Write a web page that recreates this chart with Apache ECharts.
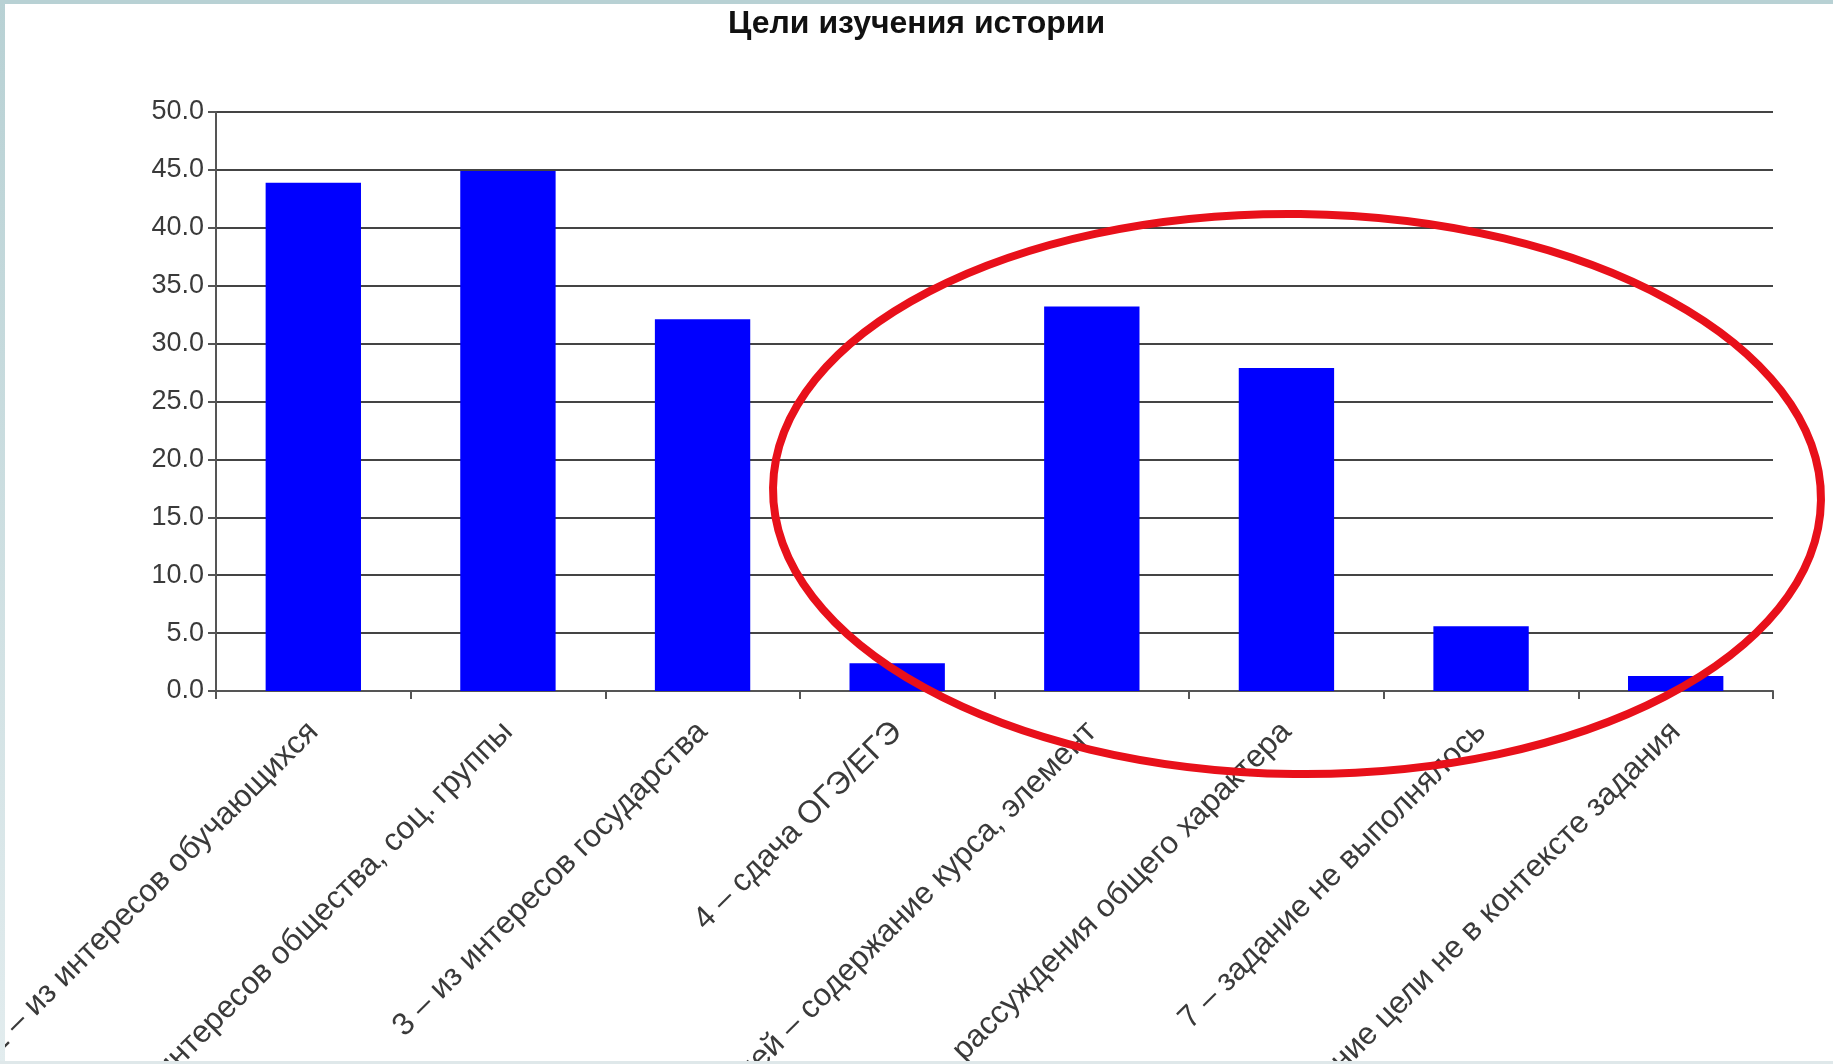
<!DOCTYPE html>
<html>
<head>
<meta charset="utf-8">
<script src="https://cdn.jsdelivr.net/npm/echarts@6/dist/echarts.min.js"></script>
<style>
  html, body { margin: 0; padding: 0; background: #fff; }
  #chart { width: 1833px; height: 1064px; }
</style>
</head>
<body>
<div id="chart"></div>
<script>
// категории (подписи оси X)
const categories = [
  "1 – из интересов обучающихся",
  "2 – из интересов общества, соц. группы",
  "3 – из интересов государства",
  "4 – сдача ОГЭ/ЕГЭ",
  "5 – перечисление целей – содержание курса, элемент",
  "6 – рассуждения общего характера",
  "7 – задание не выполнялось",
  "8 – указание цели не в контексте задания"
];
// доли ответов, %
const values = [43.9, 44.9, 32.1, 2.4, 33.2, 27.9, 5.6, 1.3];
const yMin = 0;
const yMax = 50;
const yStep = 5;

const chart = echarts.init(document.getElementById("chart"));

const option = {
  backgroundColor: "#ffffff",
  animation: false,
  title: {
    text: "Цели изучения истории",
    left: "center",
    top: 3,
    textStyle: {
      fontFamily: "Liberation Sans, Arial, sans-serif",
      fontSize: 32,
      fontWeight: "bold",
      color: "#111"
    }
  },
  grid: {
    left: 216,
    right: 60,
    top: 112,
    bottom: 373,
    containLabel: false,
    outerBoundsMode: "none"
  },
  xAxis: {
    type: "category",
    data: categories,
    axisLine: { lineStyle: { color: "#555", width: 2 } },
    axisTick: { show: true, length: 8, lineStyle: { color: "#555", width: 2 } },
    axisLabel: {
      rotate: 45,
      interval: 0,
      margin: 36,
      hideOverlap: false,
      fontFamily: "Liberation Sans, Arial, sans-serif",
      fontSize: 31.5,
      color: "#3a3a3a"
    }
  },
  yAxis: {
    type: "value",
    min: yMin,
    max: yMax,
    interval: yStep,
    axisLine: { show: true, lineStyle: { color: "#555", width: 2 } },
    axisTick: { show: true, length: 8, lineStyle: { color: "#555", width: 2 } },
    axisLabel: {
      margin: 12,
      fontFamily: "Liberation Sans, Arial, sans-serif",
      fontSize: 27,
      color: "#3a3a3a",
      formatter: v => v.toFixed(1)
    },
    splitLine: { lineStyle: { color: "#444", width: 2 } }
  },
  series: [
    {
      type: "bar",
      data: values,
      barWidth: "49%",
      itemStyle: { color: "#0000ff" }
    }
  ],
  graphic: [
    // рамка слайда
    { type: "rect", left: 0, top: 0, z: 100, shape: { width: 1833, height: 4 }, style: { fill: "#b8d1d4" } },
    {
      type: "rect", left: 0, top: 0, z: 100,
      shape: { width: 5, height: 1064 },
      style: {
        fill: new echarts.graphic.LinearGradient(0, 0, 0, 1, [
          { offset: 0, color: "#b8d1d4" },
          { offset: 1, color: "#e2ecee" }
        ])
      }
    },
    { type: "rect", left: 0, top: 1061, z: 100, shape: { width: 1833, height: 3 }, style: { fill: "#dfe8ea" } },
    // красный овал-пометка
    {
      type: "ellipse",
      z: 90,
      shape: { cx: 1297, cy: 494, rx: 524, ry: 280 },
      rotation: -0.012,
      originX: 1297,
      originY: 494,
      style: { fill: "none", stroke: "#e8101a", lineWidth: 8 }
    }
  ]
};

chart.setOption(option);
</script>
</body>
</html>
